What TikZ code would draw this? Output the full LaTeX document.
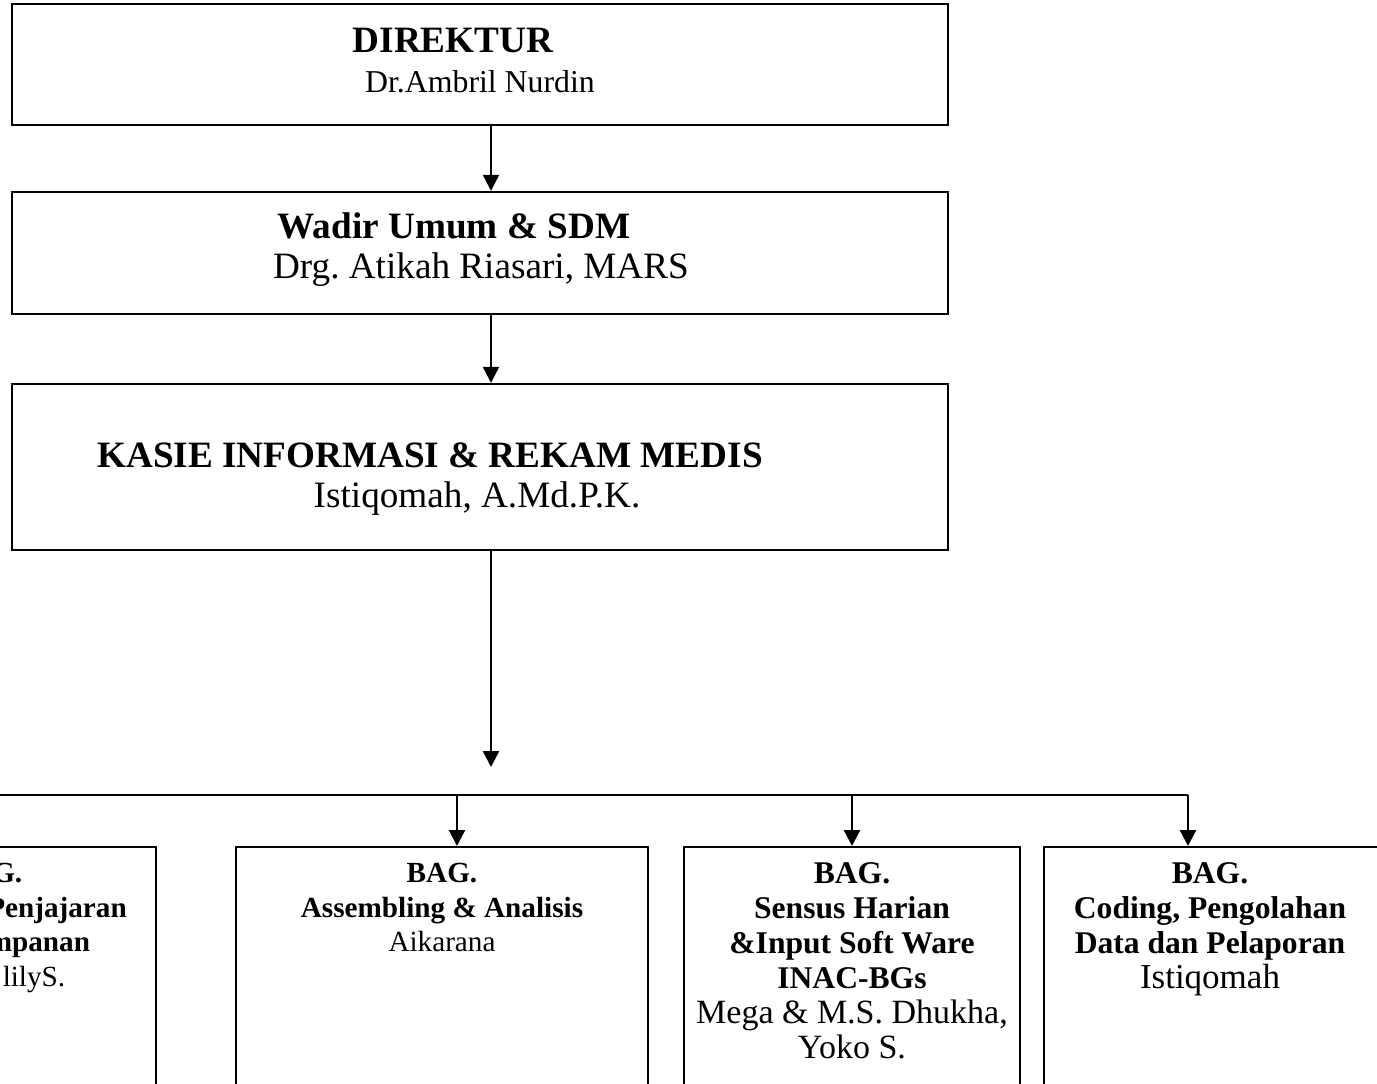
\documentclass[tikz,border=0pt]{standalone}
\usepackage{fontspec}
\setmainfont{Liberation Serif}
\usetikzlibrary{arrows.meta,positioning}
\frenchspacing

\begin{document}
\begin{tikzpicture}[
x=0.5pt, y=-0.5pt,
box/.style={draw, line width=1.2pt, rectangle, inner sep=0pt},
headtext/.style={anchor=base, inner sep=0pt, font=\fontsize{18.6}{22}\selectfont\bfseries},
nametext/.style={anchor=base, inner sep=0pt, font=\fontsize{18.6}{22}\selectfont},
bagtext/.style={anchor=north, align=center, inner sep=0pt},
oneway/.style={-{Triangle[length=8pt,width=8pt]}, line width=1.2pt},
]
    % Page
    \useasboundingbox (0,0) rectangle (1377,1083);
    \clip (0,0) rectangle (1377,1083);

    % Top boxes
    \node[box, minimum width=468pt, minimum height=60.5pt] (dir) at (480,64.5) {};
    \node[headtext] (dirtitle) at (453,52) {DIREKTUR};
    \node[nametext, font=\fontsize{15.9}{19}\selectfont] (dirname) at (480,92) {Dr.Ambril Nurdin};

    \node[box, minimum width=468pt, minimum height=61pt] (wadir) at (480,253) {};
    \node[headtext] (wadirtitle) at (454,238) {Wadir Umum \& SDM};
    \node[nametext] (wadirname) at (481,278) {Drg. Atikah Riasari, MARS};

    \node[box, minimum width=468pt, minimum height=83pt] (kasie) at (480,467) {};
    \node[headtext] (kasietitle) at (430,467) {KASIE INFORMASI \& REKAM MEDIS};
    \node[nametext] (kasiename) at (477,507) {Istiqomah, A.Md.P.K.};

    % Down the middle
    \coordinate (spine) at (491,0);
    \coordinate (drop) at (491,767);
    \draw[oneway] (dir.south -| spine) -- (wadir.north -| spine);
    \draw[oneway] (wadir.south -| spine) -- (kasie.north -| spine);
    \draw[oneway] (kasie.south -| spine) -- (drop);

    % Bus line
    \coordinate (busL) at (-20,795);
    \coordinate (busR) at (1188,795);
    \coordinate (tap2) at (457,795);
    \coordinate (tap3) at (852,795);
    \draw[line width=1.2pt] (busL) -- (busR);

    % Bottom boxes
    \node[box, anchor=north, minimum width=169pt, minimum height=132pt] (bag1) at (-13,846) {};
    \node[box, anchor=north, minimum width=206pt, minimum height=132pt] (bag2) at (442,846) {};
    \node[box, anchor=north, minimum width=168pt, minimum height=132pt] (bag3) at (852,846) {};
    \node[box, anchor=north, minimum width=178pt, minimum height=132pt] (bag4) at (1222,846) {};

    \draw[oneway] (tap2) -- (tap2 |- bag2.north);
    \draw[oneway] (tap3) -- (bag3.north);
    \draw[oneway] (busR) -- (busR |- bag4.north);

    \node[bagtext, font=\fontsize{14.6}{17.25}\selectfont] (bag1text) at (-13,863)
        {\textbf{BAG.}\\\textbf{\hspace*{70pt}Penjajaran}\\\textbf{\hspace*{17pt}Penyimpanan}\\\hspace*{47pt}lilyS.};
    \node[bagtext, font=\fontsize{14.6}{17.25}\selectfont] (bag2text) at (442,863)
        {\textbf{BAG.}\\\textbf{Assembling \& Analisis}\\Aikarana};
    \node[bagtext, font=\fontsize{15.8}{17.5}\selectfont] (bag3text) at (852,862)
        {\textbf{BAG.}\\\textbf{Sensus Harian}\\\textbf{\&Input Soft Ware}\\\textbf{INAC-BGs}\\
         {\fontsize{17}{17.5}\selectfont Mega \& M.S. Dhukha,}\\{\fontsize{17}{17.5}\selectfont Yoko S.}};
    \node[bagtext, font=\fontsize{15.8}{17.6}\selectfont] (bag4text) at (1210,862)
        {\textbf{BAG.}\\\textbf{Coding, Pengolahan}\\\textbf{Data dan Pelaporan}\\{\fontsize{17.5}{17.6}\selectfont Istiqomah}};

\end{tikzpicture}
\end{document}
